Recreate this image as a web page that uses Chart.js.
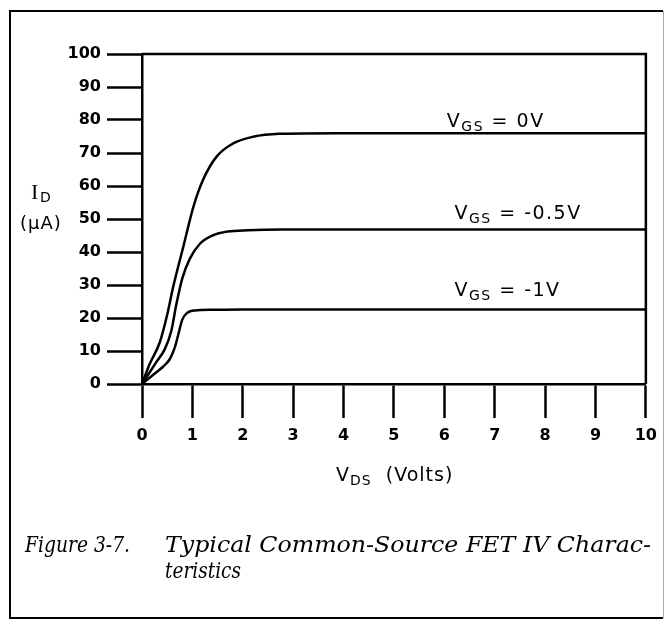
<!DOCTYPE html>
<html>
<head>
<meta charset="utf-8">
<title>Common-Source FET IV Characteristics</title>
<script src="https://cdn.jsdelivr.net/npm/chart.js@4.4.0/dist/chart.umd.min.js"></script>
<style>
  html, body { margin: 0; padding: 0; background: #fff; }
  #wrap { width: 665px; height: 621px; }
</style>
</head>
<body>
<div id="wrap"><canvas id="ivChart" width="665" height="621"></canvas></div>
<script>
"use strict";

// Drain current (uA) against drain-source voltage (V), one pair per gate bias
var vdsZero = [0, 0.15, 0.35, 0.5, 0.62, 0.82, 1.02, 1.21, 1.48, 1.81, 2.2, 2.73, 3.9, 10];
var idZero  = [0, 6, 12.5, 21, 29.5, 41.6, 53.7, 61.8, 68.9, 72.9, 74.9, 75.8, 76, 76];

var vdsHalf = [0, 0.15, 0.3, 0.45, 0.58, 0.68, 0.8, 0.95, 1.15, 1.4, 1.7, 2.1, 2.8, 10];
var idHalf  = [0, 3.5, 7, 10.5, 16, 24, 32, 38, 42.5, 45, 46.2, 46.6, 46.8, 46.8];

var vdsOne = [0, 0.2, 0.4, 0.55, 0.65, 0.72, 0.8, 0.9, 1.05, 1.4, 2, 10];
var idOne  = [0, 2.5, 5, 7.5, 11, 15, 19.5, 21.6, 22.3, 22.5, 22.6, 22.6];

var gateBias = ["0V", "-0.5V", "-1V"];

document.addEventListener("DOMContentLoaded", function () {
    var ink = "#000";

    function toPoints(xs, ys) {
        return xs.map(function (x, i) { return { x: x, y: ys[i] }; });
    }

    function curve(xs, ys, bias) {
        return {
            label: "VGS = " + bias,
            data: toPoints(xs, ys),
            borderColor: ink,
            borderWidth: 2.5,
            pointRadius: 0,
            fill: false,
            cubicInterpolationMode: "monotone",
        };
    }

    // text with a lowered subscript, e.g. V + GS + " = 0V"
    function subText(ctx, x, y, main, sub, rest, size) {
        ctx.font = size + "px 'DejaVu Sans'";
        ctx.fillText(main, x, y);
        x += ctx.measureText(main).width;
        var subSize = Math.round(size * 0.74);
        ctx.font = subSize + "px 'DejaVu Sans'";
        ctx.fillText(sub, x, y + Math.round(size * 0.22));
        x += ctx.measureText(sub).width;
        ctx.font = size + "px 'DejaVu Sans'";
        ctx.fillText(rest, x, y);
    }

    // italic caption line squeezed or stretched to a set width
    function fitText(ctx, text, x, y, width) {
        var sx = width / ctx.measureText(text).width;
        ctx.save();
        ctx.translate(x, y);
        ctx.scale(sx, 1);
        ctx.fillText(text, 0, 0);
        ctx.restore();
    }

    // where each curve's bias note sits: volts along x, pixels above the flat part
    var notes = [
        { at: 6.05, lift: 6 },
        { at: 6.2, lift: 11 },
        { at: 6.2, lift: 13 },
    ];

    // ------------------------------------------------------- //
    // Frame, plot box, curve notes, axis titles and caption
    // ------------------------------------------------------ //
    var decorations = {
        id: "decorations",
        afterDraw: function (chart) {
            var ctx = chart.ctx;
            var area = chart.chartArea;
            var xs = chart.scales.x;
            var ys = chart.scales.y;

            ctx.save();
            ctx.strokeStyle = ink;
            ctx.fillStyle = ink;

            // outer frame
            ctx.lineWidth = 2;
            ctx.beginPath();
            ctx.moveTo(663, 11);
            ctx.lineTo(10, 11);
            ctx.lineTo(10, 618);
            ctx.lineTo(663, 618);
            ctx.stroke();
            ctx.strokeStyle = "#aaa";
            ctx.lineWidth = 1;
            ctx.beginPath();
            ctx.moveTo(663.5, 11);
            ctx.lineTo(663.5, 618);
            ctx.stroke();

            // top and right sides of the plot box
            ctx.strokeStyle = ink;
            ctx.lineWidth = 2.5;
            ctx.beginPath();
            ctx.moveTo(area.left, area.top);
            ctx.lineTo(area.right, area.top);
            ctx.lineTo(area.right, area.bottom);
            ctx.stroke();

            // gate bias notes
            ctx.textAlign = "left";
            ctx.textBaseline = "alphabetic";
            ctx.letterSpacing = "1.5px";
            chart.data.datasets.forEach(function (ds, i) {
                var last = ds.data[ds.data.length - 1].y;
                var px = xs.getPixelForValue(notes[i].at);
                var py = ys.getPixelForValue(last) - notes[i].lift;
                subText(ctx, px, py, "V", "GS", " = " + gateBias[i], 19);
            });

            // x axis title
            ctx.letterSpacing = "1px";
            subText(ctx, 336, 481, "V", "DS", "  (Volts)", 19);

            // y axis title
            ctx.letterSpacing = "0px";
            ctx.font = "22px 'Liberation Serif'";
            ctx.fillText("I", 31, 199);
            ctx.font = "14px 'DejaVu Sans'";
            ctx.fillText("D", 40, 202);
            ctx.letterSpacing = "1px";
            ctx.font = "18px 'DejaVu Sans'";
            ctx.fillText("(\u00b5A)", 20, 229);

            // caption
            ctx.letterSpacing = "0px";
            ctx.font = "italic 22px 'DejaVu Serif'";
            fitText(ctx, "Figure 3-7.", 25, 552, 105);
            fitText(ctx, "Typical Common-Source FET IV Charac-", 165, 552, 486);
            fitText(ctx, "teristics", 165, 578, 76);

            ctx.restore();
        },
    };

    // ------------------------------------------------------- //
    // IV curves
    // ------------------------------------------------------ //
    var tickFont = { family: "'DejaVu Sans'", weight: "bold", size: 16 };

    var IVCHART = document.getElementById("ivChart");
    var ivChart = new Chart(IVCHART, {
        type: "line",
        data: {
            datasets: [
                curve(vdsZero, idZero, gateBias[0]),
                curve(vdsHalf, idHalf, gateBias[1]),
                curve(vdsOne, idOne, gateBias[2]),
            ],
        },
        options: {
            responsive: false,
            animation: false,
            events: [],
            layout: {
                padding: { top: 54, right: 18, left: 0, bottom: 0 },
            },
            plugins: {
                legend: { display: false },
                tooltip: { enabled: false },
            },
            scales: {
                x: {
                    type: "linear",
                    min: 0,
                    max: 10,
                    ticks: { stepSize: 1, color: ink, font: tickFont, padding: 8 },
                    grid: {
                        drawOnChartArea: false,
                        drawTicks: true,
                        tickLength: 34,
                        tickColor: ink,
                        tickWidth: 2.5,
                        color: ink,
                    },
                    border: { display: true, color: ink, width: 2.5 },
                    afterFit: function (scale) { scale.height = 237; },
                },
                y: {
                    type: "linear",
                    min: 0,
                    max: 100,
                    ticks: { stepSize: 10, color: ink, font: tickFont, padding: 6 },
                    grid: {
                        drawOnChartArea: false,
                        drawTicks: true,
                        tickLength: 35,
                        tickColor: ink,
                        tickWidth: 2.5,
                        color: ink,
                    },
                    border: { display: true, color: ink, width: 2.5 },
                    afterFit: function (scale) { scale.width = 142; },
                },
            },
        },
        plugins: [decorations],
    });
});
</script>
</body>
</html>
